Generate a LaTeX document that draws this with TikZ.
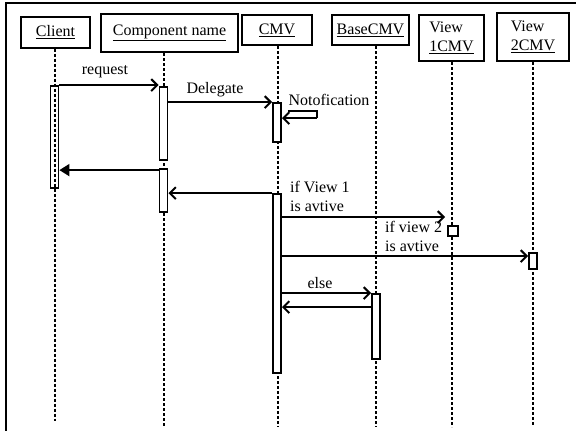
\documentclass[tikz,border=0pt]{standalone}
\usepackage{fontspec}
\setmainfont{Liberation Serif}
\usetikzlibrary{arrows.meta,calc}
\begin{document}
\begin{tikzpicture}[x=1pt,y=-1pt,
  every node/.style={font=\fontsize{16}{19}\selectfont, inner sep=0pt},
  obj/.style={draw, line width=2pt, align=left},
  life/.style={line width=2pt, dash pattern=on 3pt off 2pt},
  act/.style={draw, line width=1.8pt, fill=white, minimum width=8pt},
  msg/.style={line width=1.8pt, -{Straight Barb[length=6pt,width=12pt,line width=2pt]}},
  retf/.style={line width=1.8pt, -{Triangle[length=10pt,width=12pt]}},
  lbl/.style={anchor=base west, align=left}]
\useasboundingbox (0,0) rectangle (576,431);
\draw[line width=2pt] (6,431) -- (6,3) -- (576,3);

% objects
\node[obj, minimum width=69pt, minimum height=31pt] (client) at (55.5,32) {\underline{Client}};
\node[obj, line width=2.4pt, minimum width=137pt, minimum height=38pt] (comp) at (169.5,33) {\underline{Component name}};
\node[obj, minimum width=70pt, minimum height=30pt] (cmv) at (277,30) {\underline{CMV}};
\node[obj, minimum width=77pt, minimum height=30pt] (base) at (370.5,30) {\underline{BaseCMV}};
\node[obj, minimum width=65pt, minimum height=46pt] (view1) at (451.5,38) {View\\\underline{1CMV}};
\node[obj, line width=2.4pt, minimum width=72pt, minimum height=48pt] (view2) at (533,37) {View\\\underline{2CMV}};

% lifeline ends
\coordinate (clientend) at (55,421);
\coordinate (compend) at (164,426);
\coordinate (cmvend) at (278,427);
\coordinate (baseend) at (376,427);
\coordinate (view1end) at (452,427);
\coordinate (view2end) at (533,427);

\draw[life] (client.south -| clientend) -- (clientend);
\draw[life] (comp.south -| compend) -- (compend);
\draw[life] (cmv.south -| cmvend) -- (cmvend);
\draw[life] (base.south -| baseend) -- (baseend);
\draw[life] (view1.south -| view1end) -- (view1end);
\draw[life] (view2.south -| view2end) -- (view2end);

% activation bars
\node[act, fill=none, minimum height=102pt] (clibar) at (54.5,137) {};
\node[act, minimum height=73pt] (compbar1) at (163.5,123.5) {};
\node[act, minimum height=43pt] (compbar2) at (163.5,190.5) {};
\node[act, minimum height=39pt] (cmvbar1) at (277,122.5) {};
\node[act, minimum height=179pt] (cmvbar2) at (277,283.5) {};
\node[act, minimum height=65pt] (basebar) at (376,326.5) {};
\node[act, minimum width=10pt, minimum height=10pt] (v1act) at (453,231) {};
\node[act, minimum height=16pt] (v2bar) at (533,261) {};

% messages
\draw[msg] (clibar.north east) -- (clibar.north east -| compbar1.west);
\node[anchor=base] (lreq) at (105,74) {request};

\draw[msg] (cmvbar1.north west -| compbar1.east) -- (cmvbar1.north west);
\node[anchor=base] (ldel) at (215,93) {Delegate};

\coordinate (nA) at ($(cmvbar1.north east)+(6,9)$);
\coordinate (nB) at ($(cmvbar1.north east)+(35,9)$);
\coordinate (nC) at ($(cmvbar1.north east)+(35,16)$);
\draw[line width=1.8pt] (nA) -- (nB) -- (nC);
\draw[msg] (nC) -- (nC -| cmvbar1.east);
\node[anchor=base] (lnot) at (329,105) {Notofication};

\coordinate (r1) at ($(compbar2.north west)+(0,2)$);
\draw[retf] (r1) -- (r1 -| clibar.east);

\draw[msg] (cmvbar2.north west) -- (cmvbar2.north west -| compbar2.east);

\coordinate (m1) at ($(cmvbar2.north east)+(0,24)$);
\draw[msg] (m1) -- ($(m1 -| v1act.west)+(-2,0)$);
\node[lbl] (lv1) at (290,211) {if View 1\\is avtive};

\coordinate (m2) at ($(cmvbar2.north east)+(0,63)$);
\draw[msg] (m2) -- (m2 -| v2bar.west);
\node[lbl] (lv2) at (385,251) {if view 2\\is avtive};

\coordinate (m3) at (basebar.north west -| cmvbar2.east);
\draw[msg] (m3) -- (basebar.north west);
\node[anchor=base] (lelse) at (320,288) {else};

\coordinate (m4) at ($(basebar.north west)+(0,14)$);
\draw[msg] (m4) -- (m4 -| cmvbar2.east);
\end{tikzpicture}
\end{document}
